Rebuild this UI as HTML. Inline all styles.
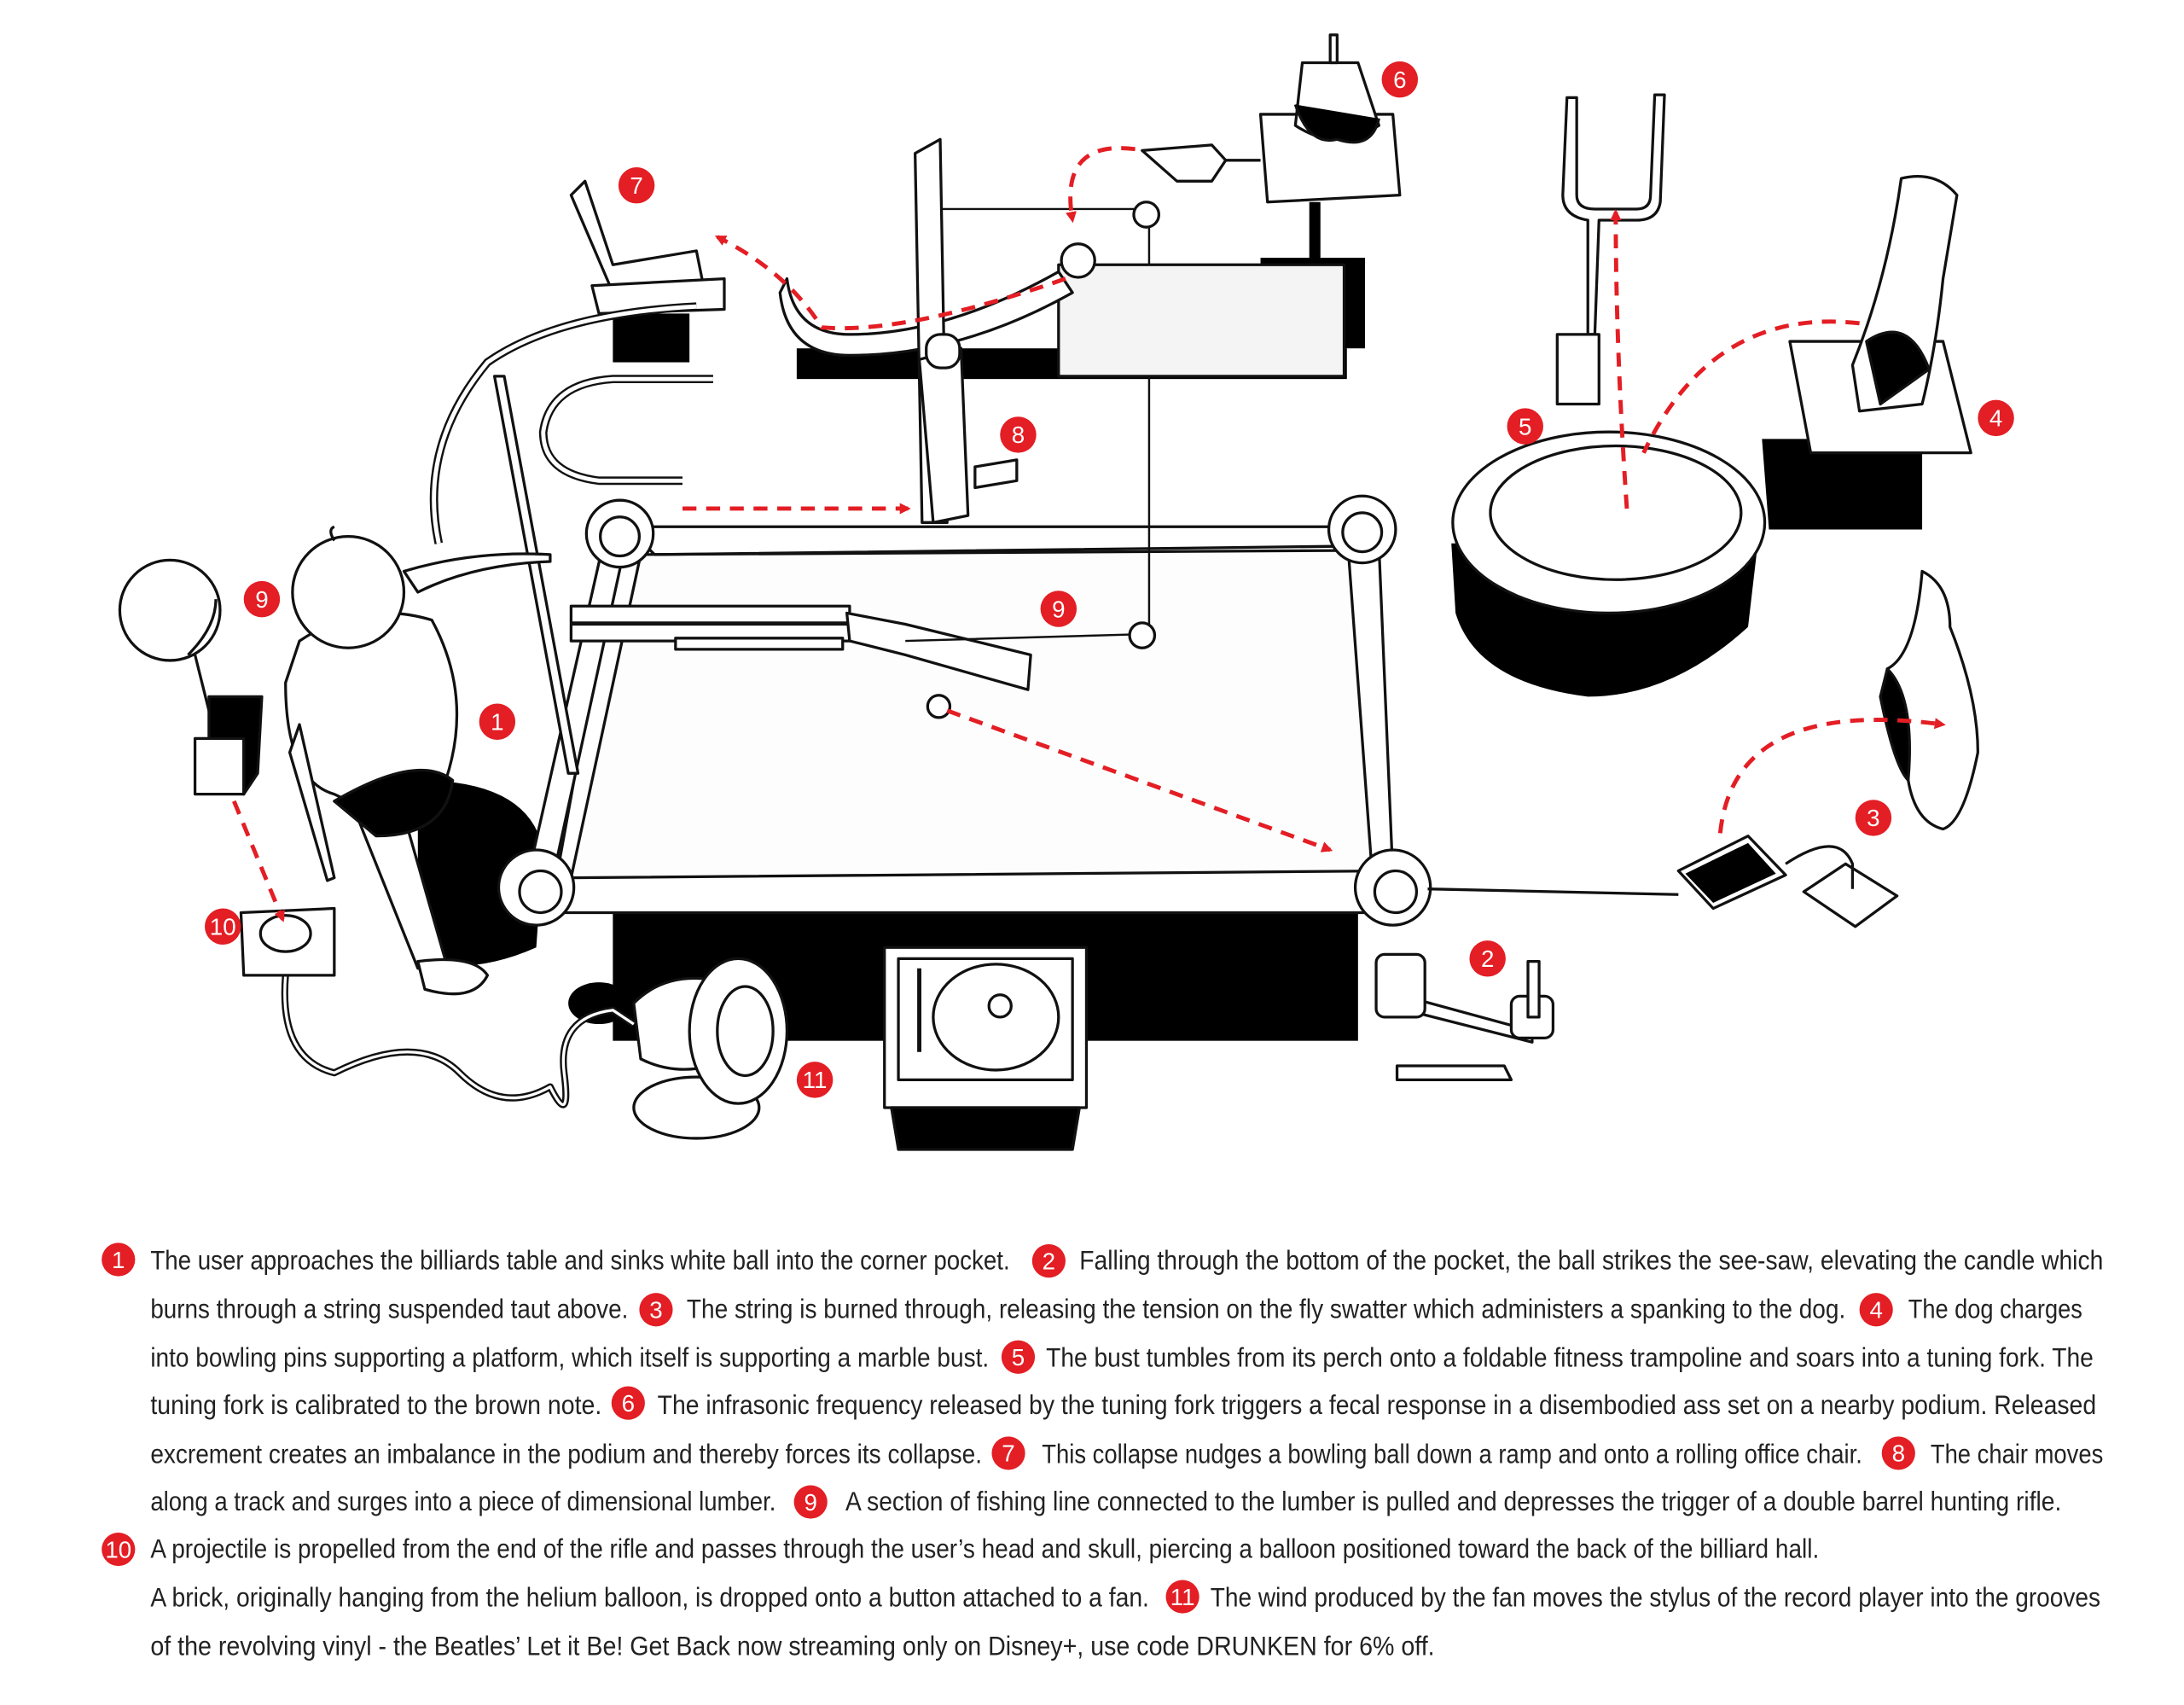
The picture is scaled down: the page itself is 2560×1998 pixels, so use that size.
<!DOCTYPE html>
<html><head><meta charset="utf-8"><style>
html,body{margin:0;padding:0;background:#fff;}
svg{display:block;}
text.t{font-family:"Liberation Sans Narrow","Liberation Sans",sans-serif;font-size:19px;fill:#222;}
text.b{font-family:"Liberation Sans Narrow","Liberation Sans",sans-serif;font-size:17px;fill:#fff;text-anchor:middle;}
</style></head><body>
<svg width="2560" height="1998" viewBox="0 0 1568 1223.7" xmlns="http://www.w3.org/2000/svg">
<defs>
<marker id="ah" markerWidth="8" markerHeight="8" refX="6" refY="4" orient="auto" markerUnits="userSpaceOnUse"><path d="M0,0 L8,4 L0,8 Z" fill="#e31e24"/></marker>
</defs>
<rect width="1568" height="1224" fill="#fff"/>
<g stroke="#111" stroke-width="2" fill="#fff" stroke-linejoin="round">
<!-- shadows -->
<rect x="440" y="652" width="535" height="95" fill="#000" stroke="none"/>
<path d="M300,560 Q380,560 390,610 L385,680 Q340,700 300,690 Z" fill="#000" stroke="none"/>
<rect x="572" y="250" width="395" height="22" fill="#000" stroke="none"/>
<rect x="905" y="185" width="75" height="65" fill="#000" stroke="none"/>
<path d="M1042,390 L1262,390 L1255,450 Q1200,500 1140,500 Q1060,490 1045,440 Z" fill="#000" stroke="none"/>
<path d="M1265,315 L1380,315 L1380,380 L1270,380 Z" fill="#000" stroke="none"/>
<rect x="450" y="523" width="290" height="10" fill="#000" stroke="none"/>
<!-- table surface -->
<path d="M440,385 L980,380 L1000,637 L385,637 Z" fill="#fdfdfd"/>
<!-- rails -->
<path d="M445,378 L978,378 L978,395 L460,398 L410,630 L1000,625 L1005,655 L395,655 Z" fill="#fff"/>
<path d="M455,383 L470,398 L965,392 L962,378" fill="none"/>
<path d="M968,395 L985,625 L1000,628 L990,392" fill="#fff"/>
<path d="M432,395 L448,395 L398,625 L380,625 Z" fill="#fff"/>
<circle cx="445" cy="383" r="24"/><circle cx="445" cy="385" r="14"/>
<circle cx="978" cy="380" r="24"/><circle cx="978" cy="382" r="14"/>
<circle cx="385" cy="637" r="27"/><circle cx="388" cy="640" r="15"/>
<circle cx="1000" cy="637" r="27"/><circle cx="1002" cy="640" r="15"/>
<!-- rifle -->
<rect x="410" y="435" width="200" height="12"/><rect x="410" y="448" width="200" height="12"/>
<path d="M608,440 L650,448 L740,470 L738,495 L650,470 L610,460 Z"/>
<rect x="485" y="458" width="120" height="8"/>
<circle cx="674" cy="507" r="8"/>
<!-- cue stick -->
<path d="M355,270 L362,270 L415,555 L408,555 Z"/>
<!-- string -->
<path d="M675,150 L825,150 L825,455 L650,460" fill="none" stroke-width="1.5"/>
<circle cx="823" cy="154" r="9"/><circle cx="820" cy="456" r="9"/>
<!-- ramp box -->
<path d="M760,190 L965,190 L965,270 L760,270 Z" fill="#f4f4f4"/>
<path d="M565,200 Q570,240 610,240 Q680,240 760,195 L770,210 Q690,255 610,255 Q565,255 560,210 Z"/>
<circle cx="774" cy="187" r="12"/>
<!-- lumber -->
<path d="M657,110 L675,100 L680,375 L662,375 Z"/>
<path d="M660,258 L690,250 L695,370 L670,375 Z"/>
<rect x="665" y="240" width="24" height="24" rx="10"/>
<path d="M700,335 L730,330 L730,345 L700,350 Z"/>
<!-- chair & track -->
<path d="M420,130 L440,190 L500,180 L505,205 L440,210 L410,140 Z"/>
<path d="M425,205 L520,200 L520,222 L430,225 Z"/>
<rect x="440" y="225" width="55" height="35" fill="#000" stroke="none"/>
<path d="M315,390 Q300,320 350,260 Q400,225 500,220" fill="none" stroke-width="6"/>
<path d="M315,390 Q300,320 350,260 Q400,225 500,220" fill="none" stroke="#fff" stroke-width="3"/>
<path d="M490,345 L430,345 Q390,340 390,310 Q395,275 440,272 L512,272" fill="none" stroke-width="6"/>
<path d="M490,345 L430,345 Q390,340 390,310 Q395,275 440,272 L512,272" fill="none" stroke="#fff" stroke-width="3"/>
<!-- podium 6 -->
<path d="M905,82 L1000,82 L1005,140 L910,145 Z"/>
<rect x="940" y="145" width="8" height="42" fill="#000" stroke="none"/>
<path d="M935,45 L975,45 L990,90 Q960,110 930,90 Z"/>
<path d="M930,75 Q940,105 960,100 Q985,108 990,85" fill="#000"/>
<path d="M955,25 L960,25 L960,45 L955,45 Z"/>
<path d="M820,108 L870,104 L880,115 L870,130 L845,130 Z"/>
<line x1="880" y1="115" x2="905" y2="115"/>
<!-- tuning fork -->
<path d="M1125,70 L1132,70 L1132,140 Q1132,150 1145,150 L1175,150 Q1185,150 1185,140 L1188,68 L1195,68 L1192,145 Q1190,158 1175,158 L1148,158 L1145,240 L1140,240 L1140,158 Q1122,155 1122,140 Z"/>
<rect x="1118" y="240" width="30" height="50"/>
<!-- trampoline -->
<ellipse cx="1155" cy="375" rx="112" ry="65"/>
<ellipse cx="1160" cy="368" rx="90" ry="48"/>
<!-- podium 4 & bust -->
<path d="M1285,245 L1395,245 L1415,325 L1300,325 Z"/>
<path d="M1365,128 Q1390,122 1405,140 L1395,200 Q1390,250 1380,290 L1335,295 L1330,262 Q1355,200 1365,128 Z"/>
<path d="M1340,245 Q1370,225 1385,265 L1350,290 Z" fill="#000"/>
<!-- dog -->
<path d="M1380,410 Q1400,420 1400,450 Q1420,500 1420,540 Q1410,590 1395,595 Q1375,590 1370,560 Q1350,520 1355,480 Q1375,470 1380,410 Z"/>
<path d="M1355,480 Q1375,500 1370,560 Q1360,550 1350,500 Z" fill="#000"/>
<!-- keypad -->
<path d="M1205,625 L1255,600 L1282,628 L1230,652 Z"/>
<path d="M1210,627 L1255,605 L1275,627 L1230,648 Z" fill="#000" stroke="none"/>
<path d="M1295,640 L1325,620 L1362,643 L1332,665 Z"/>
<path d="M1282,620 Q1320,595 1330,620 L1330,638" fill="none"/>
<line x1="1025" y1="638" x2="1205" y2="642"/>
<!-- see-saw -->
<path d="M1003,765 L1080,765 L1085,775 L1003,775 Z"/>
<path d="M990,710 L1100,740 L1100,748 L990,720 Z"/>
<rect x="988" y="685" width="35" height="45" rx="6"/>
<rect x="1085" y="715" width="30" height="30" rx="6"/>
<rect x="1097" y="690" width="8" height="40"/>
<!-- record player -->
<path d="M635,680 L780,680 L780,795 L635,795 Z"/>
<path d="M645,688 L770,688 L770,775 L645,775 Z"/>
<ellipse cx="715" cy="730" rx="45" ry="38"/>
<circle cx="718" cy="722" r="8"/>
<line x1="660" y1="695" x2="660" y2="755" stroke-width="3"/>
<path d="M640,795 L775,795 L770,825 L645,825 Z" fill="#000"/>
<!-- fan -->
<ellipse cx="500" cy="795" rx="45" ry="22"/>
<path d="M455,720 Q480,695 520,705 L525,760 Q490,775 460,760 Z"/>
<ellipse cx="530" cy="740" rx="35" ry="52"/>
<ellipse cx="535" cy="740" rx="20" ry="32"/>
<ellipse cx="430" cy="720" rx="22" ry="15" fill="#000" stroke="none"/>
<path d="M205,700 Q200,760 240,770 Q300,740 330,770 Q360,800 395,780 Q410,810 405,770 Q400,730 440,725 L455,735" fill="none" stroke-width="5"/>
<path d="M205,700 Q200,760 240,770 Q300,740 330,770 Q360,800 395,780 Q410,810 405,770 Q400,730 440,725 L455,735" fill="none" stroke="#fff" stroke-width="2"/>
<!-- balloon, brick, button -->
<circle cx="122" cy="438" r="36"/>
<path d="M135,470 Q155,450 155,430" fill="none"/>
<line x1="140" y1="470" x2="155" y2="530"/>
<path d="M140,530 L175,530 L175,570 L140,570 Z"/>
<path d="M150,500 L188,500 L185,555 L175,570 L175,530 L150,530 Z" fill="#000"/>
<path d="M173,655 L240,652 L240,700 L175,700 Z"/>
<ellipse cx="205" cy="670" rx="18" ry="13"/>
<!-- person -->
<path d="M215,460 Q260,430 310,445 Q340,500 320,560 Q280,590 240,570 Q205,560 205,490 Z"/>
<circle cx="250" cy="425" r="40"/>
<path d="M240,388 Q235,380 240,378" fill="none"/>
<path d="M290,410 Q340,395 395,398 L395,403 Q340,405 300,425 Z"/>
<path d="M250,570 L290,585 L320,690 L300,695 Z"/>
<path d="M300,690 Q340,685 350,700 Q340,720 305,710 Z"/>
<path d="M215,520 L240,630 L235,632 L208,540 Z"/>
<path d="M240,575 Q300,540 325,560 Q320,600 270,600 Z" fill="#000"/>
</g>
<!-- red dashed arrows -->
<g stroke="#e31e24" stroke-width="3" fill="none" stroke-dasharray="10,7">
<path d="M490,365 L652,365" marker-end="url(#ah)"/>
<path d="M680,510 L955,610" marker-end="url(#ah)"/>
<path d="M815,107 Q760,100 770,158" marker-end="url(#ah)"/>
<path d="M765,200 Q650,240 590,235 Q565,195 515,170" marker-end="url(#ah)"/>
<path d="M1168,365 Q1160,250 1160,152" marker-end="url(#ah)"/>
<path d="M1335,232 Q1230,220 1180,325"/>
<path d="M1235,598 Q1245,500 1395,520" marker-end="url(#ah)"/>
<path d="M168,575 L203,660" marker-end="url(#ah)"/>
</g>
<!-- diagram badges -->
<g fill="#e31e24">
<circle cx="1005" cy="57" r="13"/><circle cx="457" cy="133" r="13"/><circle cx="731" cy="312" r="13"/><circle cx="1095" cy="306" r="13"/><circle cx="1433" cy="300" r="13"/><circle cx="188" cy="430" r="13"/><circle cx="760" cy="437" r="13"/><circle cx="357" cy="518" r="13"/><circle cx="1345" cy="587" r="13"/><circle cx="160" cy="665" r="13"/><circle cx="1068" cy="688" r="13"/><circle cx="585" cy="775" r="13"/>
</g>
<g>
<text class="b" x="1005" y="63">6</text><text class="b" x="457" y="139">7</text><text class="b" x="731" y="318">8</text><text class="b" x="1095" y="312">5</text><text class="b" x="1433" y="306">4</text><text class="b" x="188" y="436">9</text><text class="b" x="760" y="443">9</text><text class="b" x="357" y="524">1</text><text class="b" x="1345" y="593">3</text><text class="b" x="160" y="671">10</text><text class="b" x="1068" y="694">2</text><text class="b" x="585" y="781">11</text>
</g>
<!-- caption badges -->
<g fill="#e31e24">
<circle cx="85" cy="904" r="12"/><circle cx="753" cy="905" r="12"/>
<circle cx="471" cy="940" r="12"/><circle cx="1347" cy="940" r="12"/>
<circle cx="731" cy="974" r="12"/><circle cx="451" cy="1007" r="12"/>
<circle cx="724" cy="1043" r="12"/><circle cx="1363" cy="1043" r="12"/>
<circle cx="582" cy="1078" r="12"/><circle cx="85" cy="1112" r="12"/>
<circle cx="849" cy="1146" r="12"/>
</g>
<g>
<text class="b" x="85" y="910">1</text><text class="b" x="753" y="911">2</text>
<text class="b" x="471" y="946">3</text><text class="b" x="1347" y="946">4</text>
<text class="b" x="731" y="980">5</text><text class="b" x="451" y="1013">6</text>
<text class="b" x="724" y="1049">7</text><text class="b" x="1363" y="1049">8</text>
<text class="b" x="582" y="1084">9</text><text class="b" x="85" y="1118" font-size="15">10</text>
<text class="b" x="849" y="1152" font-size="15">11</text>
</g>
<!-- caption text -->
<g>
<text class="t" x="108" y="911" textLength="617" lengthAdjust="spacingAndGlyphs">The user approaches the billiards table and sinks white ball into the corner pocket.</text>
<text class="t" x="775" y="911" textLength="735" lengthAdjust="spacingAndGlyphs">Falling through the bottom of the pocket, the ball strikes the see-saw, elevating the candle which</text>
<text class="t" x="108" y="946" textLength="343" lengthAdjust="spacingAndGlyphs">burns through a string suspended taut above.</text>
<text class="t" x="493" y="946" textLength="832" lengthAdjust="spacingAndGlyphs">The string is burned through, releasing the tension on the fly swatter which administers a spanking to the dog.</text>
<text class="t" x="1370" y="946" textLength="125" lengthAdjust="spacingAndGlyphs">The dog charges</text>
<text class="t" x="108" y="981" textLength="602" lengthAdjust="spacingAndGlyphs">into bowling pins supporting a platform, which itself is supporting a marble bust.</text>
<text class="t" x="751" y="981" textLength="752" lengthAdjust="spacingAndGlyphs">The bust tumbles from its perch onto a foldable fitness trampoline and soars into a tuning fork. The</text>
<text class="t" x="108" y="1015" textLength="324" lengthAdjust="spacingAndGlyphs">tuning fork is calibrated to the brown note.</text>
<text class="t" x="472" y="1015" textLength="1033" lengthAdjust="spacingAndGlyphs">The infrasonic frequency released by the tuning fork triggers a fecal response in a disembodied ass set on a nearby podium. Released</text>
<text class="t" x="108" y="1050" textLength="597" lengthAdjust="spacingAndGlyphs">excrement creates an imbalance in the podium and thereby forces its collapse.</text>
<text class="t" x="748" y="1050" textLength="589" lengthAdjust="spacingAndGlyphs">This collapse nudges a bowling ball down a ramp and onto a rolling office chair.</text>
<text class="t" x="1386" y="1050" textLength="124" lengthAdjust="spacingAndGlyphs">The chair moves</text>
<text class="t" x="108" y="1084" textLength="449" lengthAdjust="spacingAndGlyphs">along a track and surges into a piece of dimensional lumber.</text>
<text class="t" x="607" y="1084" textLength="873" lengthAdjust="spacingAndGlyphs">A section of fishing line connected to the lumber is pulled and depresses the trigger of a double barrel hunting rifle.</text>
<text class="t" x="108" y="1118" textLength="1198" lengthAdjust="spacingAndGlyphs">A projectile is propelled from the end of the rifle and passes through the user’s head and skull, piercing a balloon positioned toward the back of the billiard hall.</text>
<text class="t" x="108" y="1153" textLength="717" lengthAdjust="spacingAndGlyphs">A brick, originally hanging from the helium balloon, is dropped onto a button attached to a fan.</text>
<text class="t" x="869" y="1153" textLength="639" lengthAdjust="spacingAndGlyphs">The wind produced by the fan moves the stylus of the record player into the grooves</text>
<text class="t" x="108" y="1188" textLength="922" lengthAdjust="spacingAndGlyphs">of the revolving vinyl - the Beatles’ Let it Be! Get Back now streaming only on Disney+, use code DRUNKEN for 6% off.</text>
</g>
</svg>
</body></html>
